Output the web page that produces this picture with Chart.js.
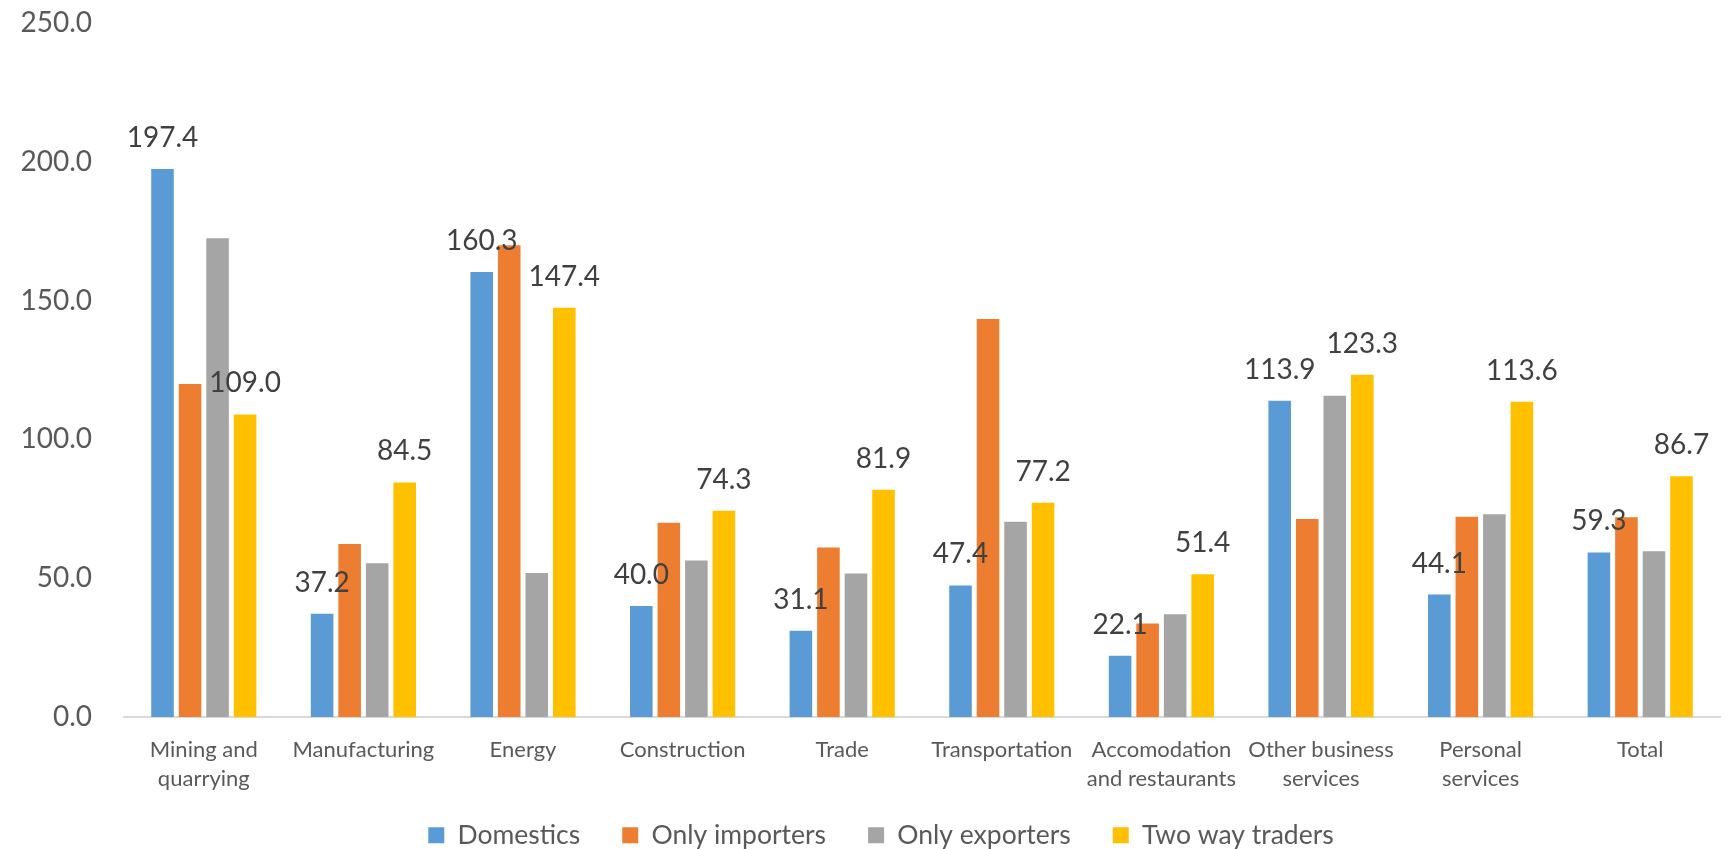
<!DOCTYPE html>
<html lang="en">
<head>
  <meta charset="UTF-8" />
  <title>Firms by trade status</title>
  <style>
    body {
      margin: 0;
      background: white;
    }
    .chart-container {
      width: 1734px;
      height: 849px;
    }
  </style>
  <script src="https://cdn.jsdelivr.net/npm/chart.js"></script>
</head>
<body>
  <div class="chart-container">
    <canvas id="tradeChart"></canvas>
  </div>

  <script>
    const sectors = [
      ["Mining and", "quarrying"], "Manufacturing", "Energy", "Construction", "Trade",
      "Transportation", ["Accomodation", "and restaurants"], ["Other business", "services"],
      ["Personal", "services"], "Total"
    ];

    const domestics      = [197.4, 37.2, 160.3, 40.0, 31.1, 47.4, 22.1, 113.9, 44.1, 59.3];
    const onlyImporters  = [120.0, 62.3, 169.9, 70.0, 61.1, 143.4, 33.7, 71.3, 72.1, 72.0];
    const onlyExporters  = [172.5, 55.4, 51.9, 56.4, 51.7, 70.3, 37.0, 115.7, 73.0, 59.7];
    const twoWayTraders  = [109.0, 84.5, 147.4, 74.3, 81.9, 77.2, 51.4, 123.3, 113.6, 86.7];

    const yTicks = [0, 50, 100, 150, 200, 250];

    // only these series carry value labels
    const labelledSeries = [0, 3];

    const textColor = "#595959";
    const fontFamily = "Lato, 'Open Sans', sans-serif";

    // draws the value above each bar of the labelled series
    const valueLabels = {
      id: "valueLabels",
      afterDatasetsDraw(chart) {
        const ctx = chart.ctx;
        ctx.save();
        ctx.font = "28px " + fontFamily;
        ctx.fillStyle = "#404040";
        ctx.textAlign = "center";
        ctx.textBaseline = "middle";
        labelledSeries.forEach(i => {
          const meta = chart.getDatasetMeta(i);
          const values = chart.data.datasets[i].data;
          meta.data.forEach((bar, j) => {
            ctx.fillText(values[j].toFixed(1), bar.x, bar.y - 31);
          });
        });
        ctx.restore();
      }
    };

    // the legend keeps wide gaps between items, so its box is tall;
    // pull it up a bit so the row sits just under the axis labels
    const legendNudge = {
      id: "legendNudge",
      afterLayout(chart) {
        const lg = chart.legend;
        lg.top -= 19;
        lg.bottom -= 19;
        lg.left += 21;
        lg.right += 21;
      }
    };

    const ctx = document.getElementById("tradeChart").getContext("2d");
    new Chart(ctx, {
      type: "bar",
      data: {
        labels: sectors,
        datasets: [
          { label: "Domestics", data: domestics, backgroundColor: "#5B9BD5" },
          { label: "Only importers", data: onlyImporters, backgroundColor: "#ED7D31" },
          { label: "Only exporters", data: onlyExporters, backgroundColor: "#A5A5A5" },
          { label: "Two way traders", data: twoWayTraders, backgroundColor: "#FFC000" }
        ]
      },
      options: {
        responsive: true,
        maintainAspectRatio: false,
        animation: false,
        categoryPercentage: 0.69,
        barPercentage: 0.82,
        layout: {
          padding: { top: 23, right: 14, bottom: -28.5, left: 0 }
        },
        plugins: {
          tooltip: { enabled: false },
          legend: {
            position: "bottom",
            labels: {
              boxWidth: 16,
              boxHeight: 16,
              padding: 42,
              color: textColor,
              font: { family: fontFamily, size: 26.5 }
            }
          }
        },
        scales: {
          x: {
            grid: { display: false, drawTicks: false },
            border: { display: true, color: "#D9D9D9", width: 2 },
            ticks: {
              color: textColor,
              padding: 18,
              maxRotation: 0,
              autoSkip: false,
              font: { family: fontFamily, size: 22, lineHeight: 1.32 }
            },
            afterFit(scale) { scale.height = 82; }
          },
          y: {
            min: 0,
            max: 250,
            // hidden tick marks give the gap between labels and plot
            grid: { display: false, drawTicks: true, tickLength: 32 },
            border: { display: false },
            afterBuildTicks(scale) {
              scale.ticks = yTicks.map(v => ({ value: v }));
            },
            ticks: {
              color: textColor,
              padding: 0,
              font: { family: fontFamily, size: 28 },
              callback: v => v.toFixed(1)
            },
            afterFit(scale) { scale.width = 124; }
          }
        }
      },
      plugins: [valueLabels, legendNudge]
    });
  </script>
</body>
</html>
